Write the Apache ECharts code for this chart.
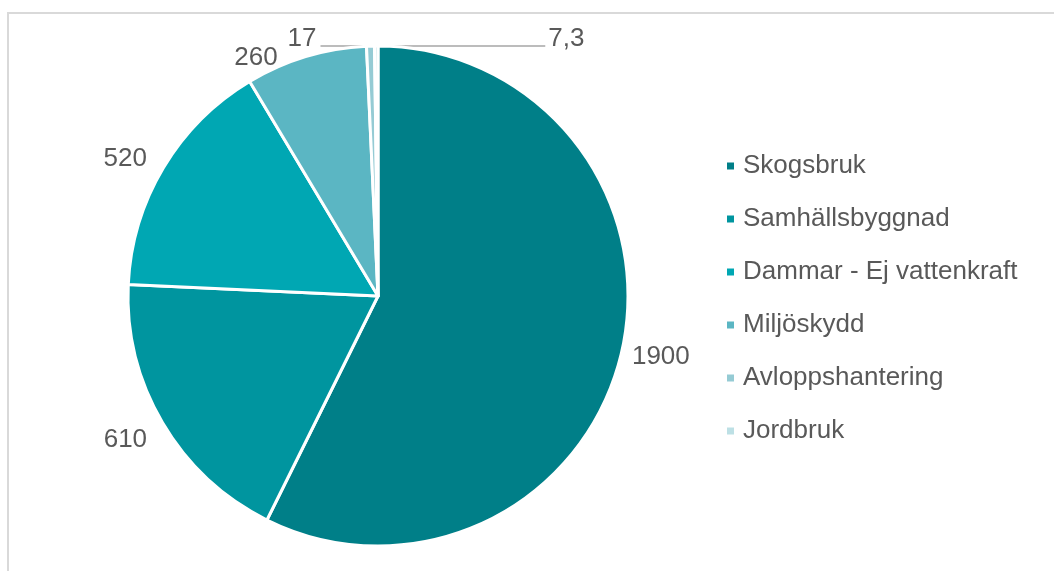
<!DOCTYPE html>
<html>
<head>
<meta charset="utf-8">
<script src="https://cdn.jsdelivr.net/npm/echarts@6/dist/echarts.min.js"></script>
<style>
  html, body { margin: 0; padding: 0; background: #fff; }
  #chart { width: 1054px; height: 571px; }
</style>
</head>
<body>
<div id="chart"></div>
<script>
// data
const categories = ['Skogsbruk', 'Samhällsbyggnad', 'Dammar - Ej vattenkraft', 'Miljöskydd', 'Avloppshantering', 'Jordbruk']
const values = [1900, 610, 520, 260, 17, 7.3]
const colors = ['#007F88', '#00959F', '#00A7B3', '#5BB6C3', '#95CBD4', '#BDE0E5']

const font = 'Liberation Sans, Arial, sans-serif'
const textColor = '#595959'

// small nudges so labels sit where Excel put them
const labelNudge = [[-9, 0], [2, 8], [1, 0], [-21, 18]]

const chart = echarts.init(document.getElementById('chart'))

const option = {
  animation: false,
  graphic: [{
    type: 'rect',
    shape: { x: 8, y: 13, width: 1200, height: 700 },
    style: { fill: 'none', stroke: '#D9D9D9', lineWidth: 2 },
    silent: true
  }],
  legend: {
    orient: 'vertical',
    left: 720,
    top: 148,
    padding: 5,
    icon: 'rect',
    itemWidth: 9,
    itemHeight: 9,
    itemGap: 27,
    data: categories,
    textStyle: { fontFamily: font, fontSize: 26, color: textColor, padding: [0, 0, 0, 3] }
  },
  series: [{
    type: 'pie',
    center: [378, 296],
    radius: 250,
    startAngle: 90,
    clockwise: true,
    avoidLabelOverlap: false,
    itemStyle: { borderColor: '#fff', borderWidth: 3 },
    label: {
      show: true,
      position: 'outside',
      fontFamily: font,
      fontSize: 26,
      color: textColor,
      distanceToLabelLine: 2,
      formatter: p => String(p.value).replace('.', ',')
    },
    labelLine: { show: false, length: 18, length2: 0 },
    data: categories.map((name, i) => ({
      name,
      value: values[i],
      itemStyle: { color: colors[i] },
      labelLine: i >= 4 ? { show: true, lineStyle: { color: '#A6A6A6', width: 1.5 } } : undefined
    })),
    labelLayout: params => {
      const i = params.dataIndex
      if (i < 4) {
        return { dx: labelNudge[i][0], dy: labelNudge[i][1] }
      }
      const p0 = params.labelLinePoints[0]
      const y = p0[1]
      if (i === 4) {
        return {
          x: p0[0] - 54, y: y - 7, align: 'right', verticalAlign: 'middle',
          labelLinePoints: [[p0[0] - 1, y], [p0[0] - 1, y], [p0[0] - 50, y]]
        }
      }
      return {
        x: p0[0] + 172, y: y - 7, align: 'left', verticalAlign: 'middle',
        labelLinePoints: [[p0[0] + 1, y], [p0[0] + 1, y], [p0[0] + 169, y]]
      }
    }
  }]
}

chart.setOption(option)
window.addEventListener('resize', () => chart.resize())
</script>
</body>
</html>
